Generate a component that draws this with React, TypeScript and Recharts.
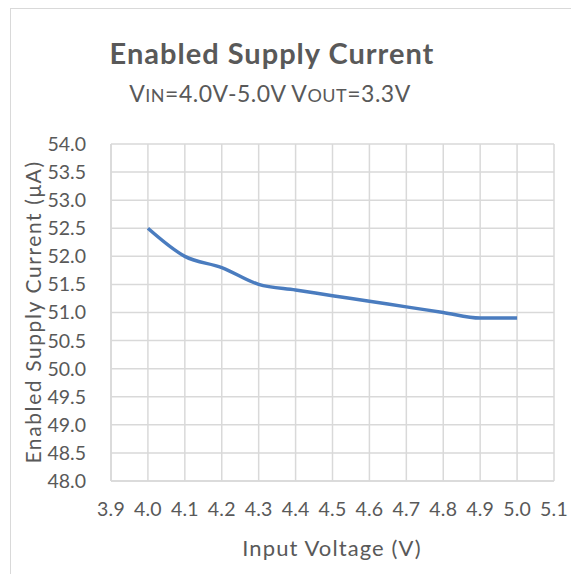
import { LineChart, Line, XAxis, YAxis, CartesianGrid } from "recharts";

const voltages = [4.0, 4.1, 4.2, 4.3, 4.4, 4.5, 4.6, 4.7, 4.8, 4.9, 5.0];
const currents = [52.5, 52.0, 51.8, 51.5, 51.4, 51.3, 51.2, 51.1, 51.0, 50.9, 50.9];
const xTicks = [3.9, 4.0, 4.1, 4.2, 4.3, 4.4, 4.5, 4.6, 4.7, 4.8, 4.9, 5.0, 5.1];
const yTicks = [48, 48.5, 49, 49.5, 50, 50.5, 51, 51.5, 52, 52.5, 53, 53.5, 54];

const data = voltages.map((v, i) => ({ v, i: currents[i] }));

const FONT = "Lato, 'Open Sans', sans-serif";
const TEXT = "#595959";
const GRID = "#d9d9d9";

export default function App() {
  return (
    <div style={{ position: "relative", width: 571, height: 566, overflow: "hidden", fontFamily: FONT }}>
      <div
        style={{
          position: "absolute",
          left: 2,
          top: 0,
          width: 700,
          height: 700,
          border: `1px solid ${GRID}`,
          boxSizing: "border-box",
        }}
      />
      <LineChart
        width={571}
        height={566}
        data={data}
        margin={{ top: 136, right: 25, left: 43, bottom: 63 }}
        style={{ position: "absolute", left: 0, top: 0 }}
      >
        <CartesianGrid stroke={GRID} strokeWidth={1.5} />
        <XAxis
          dataKey="v"
          type="number"
          domain={[3.9, 5.1]}
          ticks={xTicks}
          interval={0}
          tickFormatter={(t: number) => t.toFixed(1)}
          stroke={GRID}
          strokeWidth={1.5}
          tickLine={false}
          tickSize={0}
          tickMargin={21}
          height={30}
          tick={{ fill: TEXT, fontSize: 19.5, fontFamily: FONT, letterSpacing: 0.2 }}
        />
        <YAxis
          type="number"
          domain={[48, 54]}
          ticks={yTicks}
          interval={0}
          tickFormatter={(t: number) => t.toFixed(1)}
          stroke={GRID}
          strokeWidth={1.5}
          tickLine={false}
          tickSize={0}
          tickMargin={25}
          width={60}
          tick={{ fill: TEXT, fontSize: 19.5, fontFamily: FONT }}
        />
        <Line
          type="monotone"
          dataKey="i"
          stroke="#4a7cbf"
          strokeWidth={3.5}
          dot={false}
          isAnimationActive={false}
        />
      </LineChart>
      <svg
        width={571}
        height={566}
        style={{ position: "absolute", left: 0, top: 0, pointerEvents: "none" }}
      >
        <text x={264} y={56} textAnchor="middle" fill={TEXT} fontSize={29} fontWeight={700} fontFamily={FONT} letterSpacing={1}>
          Enabled Supply Current
        </text>
        <text x={262} y={93.5} textAnchor="middle" fill={TEXT} fontSize={23} fontFamily={FONT} letterSpacing={0.5}>
          V<tspan fontSize={18}>IN</tspan>=4.0V-5.0V V<tspan fontSize={18}>OUT</tspan>=3.3V
        </text>
        <text
          x={0}
          y={0}
          transform="translate(24 304) rotate(-90)"
          textAnchor="middle"
          dominantBaseline="central"
          fill={TEXT}
          fontSize={21}
          fontFamily={FONT}
          letterSpacing={1.6}
        >
          Enabled Supply Current (μA)
        </text>
        <text x={324} y={548} textAnchor="middle" fill={TEXT} fontSize={22} fontFamily={FONT} letterSpacing={1.1}>
          Input Voltage (V)
        </text>
      </svg>
    </div>
  );
}
